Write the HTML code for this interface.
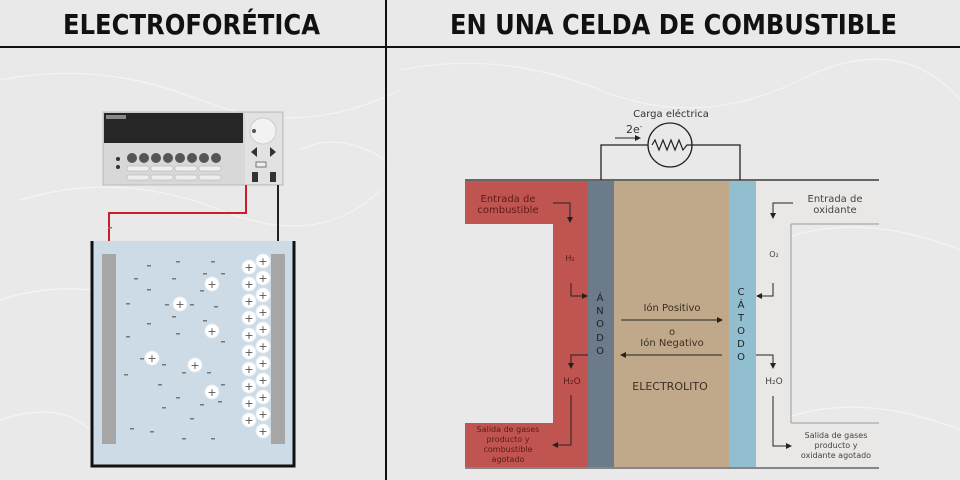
<!DOCTYPE html>
<html><head><meta charset="utf-8"><style>
html,body{margin:0;padding:0;width:960px;height:480px;overflow:hidden;background:#e9e9e9}
svg{display:block}
text{font-family:"DejaVu Sans","Liberation Sans",sans-serif}
</style></head><body>
<svg width="960" height="480" viewBox="0 0 960 480" xmlns="http://www.w3.org/2000/svg">
<defs>
<marker id="ah" markerWidth="6" markerHeight="6" refX="5" refY="3" orient="auto" markerUnits="userSpaceOnUse"><path d="M0,0 L6,3 L0,6 z" fill="#222"/></marker>
</defs>
<rect width="960" height="480" fill="#e9e9e9"/>
<g stroke="#f6f6f6" stroke-width="1.2" fill="none" opacity="0.8">
<path d="M0,80 Q100,60 200,100 T400,90"/><path d="M20,200 Q120,170 220,210 T380,190"/>
<path d="M400,70 Q500,50 600,90 T800,80 T960,100"/><path d="M0,300 Q90,270 190,320"/>
<path d="M780,240 Q860,210 960,250"/><path d="M780,420 Q860,390 960,430"/>
<path d="M0,420 Q60,400 90,430"/><path d="M300,150 Q340,130 385,160"/>
</g>
<line x1="0" y1="47" x2="960" y2="47" stroke="#111" stroke-width="2"/>
<line x1="386" y1="0" x2="386" y2="480" stroke="#111" stroke-width="2"/>
<text x="63" y="34" font-family="Liberation Sans" font-weight="bold" font-size="28" textLength="257" lengthAdjust="spacingAndGlyphs" fill="#111">ELECTROFORÉTICA</text>
<text x="450" y="34" font-family="Liberation Sans" font-weight="bold" font-size="28" textLength="447" lengthAdjust="spacingAndGlyphs" fill="#111">EN UNA CELDA DE COMBUSTIBLE</text>

<rect x="103" y="112" width="180" height="73" fill="#d8d8d8" stroke="#bbb"/>
<rect x="104" y="113" width="139" height="30" fill="#262626"/>
<rect x="106" y="115" width="20" height="4" fill="#888"/>
<rect x="245" y="113" width="37" height="71" fill="#e2e2e2"/>
<circle cx="263" cy="131" r="13" fill="#f2f2f2" stroke="#ccc"/>
<circle cx="254" cy="131" r="2" fill="#555"/>
<path d="M251,152 l6,-5 v10z M276,152 l-6,-5 v10z" fill="#333"/>
<g fill="#555"><circle cx="132" cy="158" r="5"/><circle cx="144" cy="158" r="5"/><circle cx="156" cy="158" r="5"/><circle cx="168" cy="158" r="5"/><circle cx="180" cy="158" r="5"/><circle cx="192" cy="158" r="5"/><circle cx="204" cy="158" r="5"/><circle cx="216" cy="158" r="5"/></g>
<g fill="#eee" stroke="#aaa" stroke-width="0.5"><rect x="127" y="166" width="22" height="5" rx="2"/><rect x="151" y="166" width="22" height="5" rx="2"/><rect x="175" y="166" width="22" height="5" rx="2"/><rect x="199" y="166" width="22" height="5" rx="2"/>
<rect x="127" y="175" width="22" height="5" rx="2"/><rect x="151" y="175" width="22" height="5" rx="2"/><rect x="175" y="175" width="22" height="5" rx="2"/><rect x="199" y="175" width="22" height="5" rx="2"/></g>
<circle cx="118" cy="159" r="2" fill="#333"/><circle cx="118" cy="167" r="2" fill="#333"/>
<rect x="252" y="172" width="6" height="10" fill="#333"/><rect x="270" y="172" width="6" height="10" fill="#333"/>
<rect x="256" y="162" width="10" height="5" fill="#eee" stroke="#777"/>

<polyline points="109,254 109,213 246,213 246,185" fill="none" stroke="#c8202a" stroke-width="2"/>
<polyline points="278,254 278,185" fill="none" stroke="#222" stroke-width="2"/>
<rect x="93" y="241" width="200" height="225" fill="#ccdbe6"/>
<polyline points="92,241 92,466 294,466 294,241" fill="none" stroke="#111" stroke-width="3"/>
<rect x="102" y="254" width="14" height="190" fill="#a6a6a6"/>
<rect x="271" y="254" width="14" height="190" fill="#a6a6a6"/>
<g fill="#777">
<rect x="147" y="265" width="4" height="1.5"/><rect x="176" y="261" width="4" height="1.5"/><rect x="211" y="261" width="4" height="1.5"/><rect x="134" y="278" width="4" height="1.5"/><rect x="172" y="278" width="4" height="1.5"/><rect x="147" y="289" width="4" height="1.5"/><rect x="126" y="303" width="4" height="1.5"/><rect x="214" y="306" width="4" height="1.5"/><rect x="147" y="323" width="4" height="1.5"/><rect x="176" y="333" width="4" height="1.5"/><rect x="126" y="336" width="4" height="1.5"/><rect x="124" y="374" width="4" height="1.5"/><rect x="158" y="384" width="4" height="1.5"/><rect x="176" y="397" width="4" height="1.5"/><rect x="162" y="407" width="4" height="1.5"/><rect x="190" y="418" width="4" height="1.5"/><rect x="130" y="428" width="4" height="1.5"/><rect x="150" y="431" width="4" height="1.5"/><rect x="182" y="438" width="4" height="1.5"/><rect x="211" y="438" width="4" height="1.5"/><rect x="108" y="227" width="4" height="1.5"/>
<rect x="203" y="273" width="4" height="1.5"/><rect x="221" y="273" width="4" height="1.5"/><rect x="200" y="290" width="4" height="1.5"/><rect x="165" y="304" width="4" height="1.5"/><rect x="190" y="304" width="4" height="1.5"/><rect x="172" y="316" width="4" height="1.5"/><rect x="203" y="320" width="4" height="1.5"/><rect x="221" y="341" width="4" height="1.5"/><rect x="140" y="358" width="4" height="1.5"/><rect x="162" y="364" width="4" height="1.5"/><rect x="182" y="372" width="4" height="1.5"/><rect x="207" y="372" width="4" height="1.5"/><rect x="200" y="404" width="4" height="1.5"/><rect x="221" y="384" width="4" height="1.5"/><rect x="218" y="401" width="4" height="1.5"/>
</g>
<g fill="#fff" stroke="#e8eef2" stroke-width="1">
<circle cx="249" cy="267" r="7"/><circle cx="249" cy="284" r="7"/><circle cx="249" cy="301" r="7"/><circle cx="249" cy="318" r="7"/><circle cx="249" cy="335" r="7"/><circle cx="249" cy="352" r="7"/><circle cx="249" cy="369" r="7"/><circle cx="249" cy="386" r="7"/><circle cx="249" cy="403" r="7"/><circle cx="249" cy="420" r="7"/>
<circle cx="263" cy="261" r="7"/><circle cx="263" cy="278" r="7"/><circle cx="263" cy="295" r="7"/><circle cx="263" cy="312" r="7"/><circle cx="263" cy="329" r="7"/><circle cx="263" cy="346" r="7"/><circle cx="263" cy="363" r="7"/><circle cx="263" cy="380" r="7"/><circle cx="263" cy="397" r="7"/><circle cx="263" cy="414" r="7"/><circle cx="263" cy="431" r="7"/>
<circle cx="212" cy="284" r="7"/><circle cx="180" cy="304" r="7"/><circle cx="212" cy="331" r="7"/><circle cx="152" cy="358" r="7"/><circle cx="195" cy="365" r="7"/><circle cx="212" cy="392" r="7"/>
</g>
<g font-size="11" fill="#555" text-anchor="middle">
<text x="249" y="271">+</text><text x="249" y="288">+</text><text x="249" y="305">+</text><text x="249" y="322">+</text><text x="249" y="339">+</text><text x="249" y="356">+</text><text x="249" y="373">+</text><text x="249" y="390">+</text><text x="249" y="407">+</text><text x="249" y="424">+</text>
<text x="263" y="265">+</text><text x="263" y="282">+</text><text x="263" y="299">+</text><text x="263" y="316">+</text><text x="263" y="333">+</text><text x="263" y="350">+</text><text x="263" y="367">+</text><text x="263" y="384">+</text><text x="263" y="401">+</text><text x="263" y="418">+</text><text x="263" y="435">+</text>
<text x="212" y="288">+</text><text x="180" y="308">+</text><text x="212" y="335">+</text><text x="152" y="362">+</text><text x="195" y="369">+</text><text x="212" y="396">+</text>
</g>

<line x1="465" y1="180" x2="879" y2="180" stroke="#666" stroke-width="2"/>
<path d="M465,181 H588 V467 H465 V423 H553 V224 H465 Z" fill="#c05450"/>
<path d="M756,181 H879 V224 H791 V423 H879 V467 H756 Z" fill="#e9e8e6"/>
<line x1="791" y1="224" x2="879" y2="224" stroke="#999"/>
<line x1="791" y1="224" x2="791" y2="423" stroke="#999"/>
<line x1="791" y1="423" x2="879" y2="423" stroke="#999"/>
<rect x="588" y="181" width="26" height="286" fill="#6b7b89"/>
<rect x="614" y="181" width="115" height="286" fill="#c0a98a"/>
<rect x="729" y="181" width="27" height="286" fill="#92bfcf"/>
<line x1="465" y1="468" x2="879" y2="468" stroke="#666" stroke-width="1.5"/>
<polyline points="601,180 601,145 648,145" fill="none" stroke="#222" stroke-width="1.3"/>
<polyline points="692,145 740,145 740,180" fill="none" stroke="#222" stroke-width="1.3"/>
<circle cx="670" cy="145" r="22" fill="none" stroke="#222" stroke-width="1.3"/>
<polyline points="652,145 655,140 659,150 663,140 667,150 671,140 675,150 679,140 683,150 687,145 692,145" fill="none" stroke="#222" stroke-width="1.2"/>
<line x1="615" y1="138" x2="640" y2="138" stroke="#222" stroke-width="1" marker-end="url(#ah)"/>
<text x="626" y="133" font-size="11" fill="#333">2e<tspan font-size="7" dy="-4">-</tspan></text>
<text x="671" y="117" font-size="10" fill="#333" text-anchor="middle">Carga eléctrica</text>
<g font-size="10" fill="#5a1c18" text-anchor="middle">
<text x="508" y="202">Entrada de</text><text x="508" y="213">combustible</text>
<text x="570" y="261" font-size="8">H₂</text>
<text x="572" y="384" font-size="9">H₂O</text>
<text x="508" y="432" font-size="8">Salida de gases</text><text x="508" y="442" font-size="8">producto y</text><text x="508" y="452" font-size="8">combustible</text><text x="508" y="462" font-size="8">agotado</text>
</g>
<g font-size="10" fill="#444" text-anchor="middle">
<text x="835" y="202">Entrada de</text><text x="835" y="213">oxidante</text>
<text x="774" y="257" font-size="8">O₂</text>
<text x="774" y="384" font-size="9">H₂O</text>
<text x="836" y="438" font-size="8">Salida de gases</text><text x="836" y="448" font-size="8">producto y</text><text x="836" y="458" font-size="8">oxidante agotado</text>
</g>
<g font-size="10" fill="#222" text-anchor="middle">
<text x="600" y="301">Á</text><text x="600" y="314">N</text><text x="600" y="327">O</text><text x="600" y="341">D</text><text x="600" y="354">O</text>
<text x="741" y="295">C</text><text x="741" y="308">Á</text><text x="741" y="321">T</text><text x="741" y="334">O</text><text x="741" y="347">D</text><text x="741" y="360">O</text>
</g>
<g font-size="10" fill="#3a2e22" text-anchor="middle">
<text x="672" y="311">Ión Positivo</text>
<text x="672" y="335">o</text>
<text x="672" y="346">Ión Negativo</text>
<text x="670" y="390" font-size="11">ELECTROLITO</text>
</g>
<g fill="none" stroke="#222" stroke-width="1">
<line x1="621" y1="320" x2="722" y2="320" marker-end="url(#ah)"/>
<line x1="722" y1="355" x2="621" y2="355" marker-end="url(#ah)"/>
<polyline points="553,203 570,203 570,222" marker-end="url(#ah)"/>
<polyline points="571,283 571,296 587,296" marker-end="url(#ah)"/>
<polyline points="588,355 571,355 571,368" marker-end="url(#ah)"/>
<polyline points="571,395 571,445 553,445" marker-end="url(#ah)"/>
<polyline points="793,203 773,203 773,218" marker-end="url(#ah)"/>
<polyline points="773,283 773,296 757,296" marker-end="url(#ah)"/>
<polyline points="756,355 773,355 773,368" marker-end="url(#ah)"/>
<polyline points="773,396 773,446 791,446" marker-end="url(#ah)"/>
</g>
</svg>
</body></html>
